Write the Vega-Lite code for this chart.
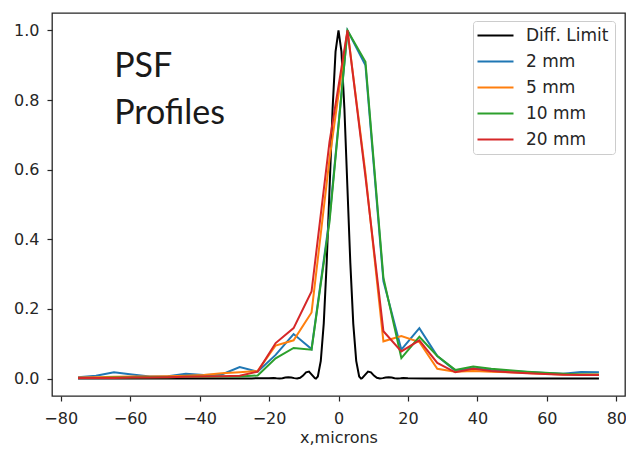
{
  "$schema": "https://vega.github.io/schema/vega-lite/v6.json",
  "width": 573,
  "height": 383,
  "autosize": {"type": "none"},
  "padding": {"left": 52, "top": 13, "right": 1, "bottom": 53},
  "background": "white",
  "config": {
    "view": {"stroke": "#262626", "strokeWidth": 1.3},
    "font": "DejaVu Sans",
    "axis": {
      "domain": false, "grid": false,
      "tickColor": "#262626", "tickSize": 5, "tickWidth": 1.2,
      "labelFont": "DejaVu Sans", "labelFontSize": 16, "labelColor": "#262626",
      "titleFont": "DejaVu Sans", "titleFontSize": 16, "titleFontWeight": "normal", "titleColor": "#262626"
    }
  },
  "datasets": {
    "profiles": [
      {"series": "Diff. Limit", "x": -75, "y": 0.0001},
      {"series": "Diff. Limit", "x": -60, "y": 0.0002},
      {"series": "Diff. Limit", "x": -50, "y": 0.0002},
      {"series": "Diff. Limit", "x": -40, "y": 0.0003},
      {"series": "Diff. Limit", "x": -30, "y": 0.0004},
      {"series": "Diff. Limit", "x": -25, "y": 0.0006},
      {"series": "Diff. Limit", "x": -20, "y": 0.0012},
      {"series": "Diff. Limit", "x": -18.7, "y": 0.0018},
      {"series": "Diff. Limit", "x": -17.9, "y": 0.0008},
      {"series": "Diff. Limit", "x": -17, "y": 0.0001},
      {"series": "Diff. Limit", "x": -16.15, "y": 0.0012},
      {"series": "Diff. Limit", "x": -15.3, "y": 0.003},
      {"series": "Diff. Limit", "x": -14.45, "y": 0.0041},
      {"series": "Diff. Limit", "x": -13.6, "y": 0.0034},
      {"series": "Diff. Limit", "x": -12.75, "y": 0.0013},
      {"series": "Diff. Limit", "x": -11.9, "y": 0},
      {"series": "Diff. Limit", "x": -11.05, "y": 0.0022},
      {"series": "Diff. Limit", "x": -10.2, "y": 0.0085},
      {"series": "Diff. Limit", "x": -9.35, "y": 0.018},
      {"series": "Diff. Limit", "x": -8.5, "y": 0.02},
      {"series": "Diff. Limit", "x": -7.65, "y": 0.0106},
      {"series": "Diff. Limit", "x": -6.8, "y": 0.0011},
      {"series": "Diff. Limit", "x": -6.5, "y": 0},
      {"series": "Diff. Limit", "x": -5.95, "y": 0.0062},
      {"series": "Diff. Limit", "x": -5.1, "y": 0.051},
      {"series": "Diff. Limit", "x": -4.25, "y": 0.158},
      {"series": "Diff. Limit", "x": -3.4, "y": 0.333},
      {"series": "Diff. Limit", "x": -2.55, "y": 0.553},
      {"series": "Diff. Limit", "x": -1.7, "y": 0.775},
      {"series": "Diff. Limit", "x": -0.85, "y": 0.939},
      {"series": "Diff. Limit", "x": 0, "y": 1.0},
      {"series": "Diff. Limit", "x": 0.85, "y": 0.939},
      {"series": "Diff. Limit", "x": 1.7, "y": 0.775},
      {"series": "Diff. Limit", "x": 2.55, "y": 0.553},
      {"series": "Diff. Limit", "x": 3.4, "y": 0.333},
      {"series": "Diff. Limit", "x": 4.25, "y": 0.158},
      {"series": "Diff. Limit", "x": 5.1, "y": 0.051},
      {"series": "Diff. Limit", "x": 5.95, "y": 0.0062},
      {"series": "Diff. Limit", "x": 6.5, "y": 0},
      {"series": "Diff. Limit", "x": 6.8, "y": 0.0011},
      {"series": "Diff. Limit", "x": 7.65, "y": 0.0106},
      {"series": "Diff. Limit", "x": 8.5, "y": 0.02},
      {"series": "Diff. Limit", "x": 9.35, "y": 0.018},
      {"series": "Diff. Limit", "x": 10.2, "y": 0.0085},
      {"series": "Diff. Limit", "x": 11.05, "y": 0.0022},
      {"series": "Diff. Limit", "x": 11.9, "y": 0},
      {"series": "Diff. Limit", "x": 12.75, "y": 0.0013},
      {"series": "Diff. Limit", "x": 13.6, "y": 0.0034},
      {"series": "Diff. Limit", "x": 14.45, "y": 0.0041},
      {"series": "Diff. Limit", "x": 15.3, "y": 0.003},
      {"series": "Diff. Limit", "x": 16.15, "y": 0.0012},
      {"series": "Diff. Limit", "x": 17, "y": 0.0001},
      {"series": "Diff. Limit", "x": 17.9, "y": 0.0008},
      {"series": "Diff. Limit", "x": 18.7, "y": 0.0018},
      {"series": "Diff. Limit", "x": 20, "y": 0.0012},
      {"series": "Diff. Limit", "x": 25, "y": 0.0006},
      {"series": "Diff. Limit", "x": 30, "y": 0.0004},
      {"series": "Diff. Limit", "x": 40, "y": 0.0003},
      {"series": "Diff. Limit", "x": 50, "y": 0.0002},
      {"series": "Diff. Limit", "x": 60, "y": 0.0002},
      {"series": "Diff. Limit", "x": 75, "y": 0.0001},

      {"series": "2 mm", "x": -75, "y": 0.004},
      {"series": "2 mm", "x": -69.83, "y": 0.008},
      {"series": "2 mm", "x": -64.66, "y": 0.018},
      {"series": "2 mm", "x": -59.48, "y": 0.012},
      {"series": "2 mm", "x": -54.31, "y": 0.006},
      {"series": "2 mm", "x": -49.14, "y": 0.007},
      {"series": "2 mm", "x": -43.97, "y": 0.014},
      {"series": "2 mm", "x": -38.79, "y": 0.01},
      {"series": "2 mm", "x": -33.62, "y": 0.012},
      {"series": "2 mm", "x": -28.45, "y": 0.033},
      {"series": "2 mm", "x": -23.28, "y": 0.02},
      {"series": "2 mm", "x": -18.1, "y": 0.068},
      {"series": "2 mm", "x": -12.93, "y": 0.128},
      {"series": "2 mm", "x": -7.76, "y": 0.085},
      {"series": "2 mm", "x": -2.59, "y": 0.46},
      {"series": "2 mm", "x": 2.59, "y": 1.0},
      {"series": "2 mm", "x": 7.76, "y": 0.9},
      {"series": "2 mm", "x": 12.93, "y": 0.28},
      {"series": "2 mm", "x": 18.1, "y": 0.083},
      {"series": "2 mm", "x": 23.28, "y": 0.145},
      {"series": "2 mm", "x": 28.45, "y": 0.065},
      {"series": "2 mm", "x": 33.62, "y": 0.023},
      {"series": "2 mm", "x": 38.79, "y": 0.03},
      {"series": "2 mm", "x": 43.97, "y": 0.025},
      {"series": "2 mm", "x": 49.14, "y": 0.022},
      {"series": "2 mm", "x": 54.31, "y": 0.019},
      {"series": "2 mm", "x": 59.48, "y": 0.016},
      {"series": "2 mm", "x": 64.66, "y": 0.014},
      {"series": "2 mm", "x": 69.83, "y": 0.019},
      {"series": "2 mm", "x": 75, "y": 0.018},

      {"series": "5 mm", "x": -75, "y": 0.003},
      {"series": "5 mm", "x": -69.83, "y": 0.004},
      {"series": "5 mm", "x": -64.66, "y": 0.005},
      {"series": "5 mm", "x": -59.48, "y": 0.006},
      {"series": "5 mm", "x": -54.31, "y": 0.006},
      {"series": "5 mm", "x": -49.14, "y": 0.007},
      {"series": "5 mm", "x": -43.97, "y": 0.008},
      {"series": "5 mm", "x": -38.79, "y": 0.01},
      {"series": "5 mm", "x": -33.62, "y": 0.015},
      {"series": "5 mm", "x": -28.45, "y": 0.018},
      {"series": "5 mm", "x": -23.28, "y": 0.022},
      {"series": "5 mm", "x": -18.1, "y": 0.095},
      {"series": "5 mm", "x": -12.93, "y": 0.11},
      {"series": "5 mm", "x": -7.76, "y": 0.19},
      {"series": "5 mm", "x": -2.59, "y": 0.63},
      {"series": "5 mm", "x": 2.59, "y": 1.0},
      {"series": "5 mm", "x": 7.76, "y": 0.59},
      {"series": "5 mm", "x": 12.93, "y": 0.107},
      {"series": "5 mm", "x": 18.1, "y": 0.122},
      {"series": "5 mm", "x": 23.28, "y": 0.105},
      {"series": "5 mm", "x": 28.45, "y": 0.028},
      {"series": "5 mm", "x": 33.62, "y": 0.02},
      {"series": "5 mm", "x": 38.79, "y": 0.022},
      {"series": "5 mm", "x": 43.97, "y": 0.02},
      {"series": "5 mm", "x": 49.14, "y": 0.018},
      {"series": "5 mm", "x": 54.31, "y": 0.016},
      {"series": "5 mm", "x": 59.48, "y": 0.014},
      {"series": "5 mm", "x": 64.66, "y": 0.012},
      {"series": "5 mm", "x": 69.83, "y": 0.012},
      {"series": "5 mm", "x": 75, "y": 0.012},

      {"series": "10 mm", "x": -75, "y": 0.002},
      {"series": "10 mm", "x": -69.83, "y": 0.002},
      {"series": "10 mm", "x": -64.66, "y": 0.003},
      {"series": "10 mm", "x": -59.48, "y": 0.003},
      {"series": "10 mm", "x": -54.31, "y": 0.004},
      {"series": "10 mm", "x": -49.14, "y": 0.004},
      {"series": "10 mm", "x": -43.97, "y": 0.005},
      {"series": "10 mm", "x": -38.79, "y": 0.005},
      {"series": "10 mm", "x": -33.62, "y": 0.006},
      {"series": "10 mm", "x": -28.45, "y": 0.006},
      {"series": "10 mm", "x": -23.28, "y": 0.009},
      {"series": "10 mm", "x": -18.1, "y": 0.058},
      {"series": "10 mm", "x": -12.93, "y": 0.088},
      {"series": "10 mm", "x": -7.76, "y": 0.083},
      {"series": "10 mm", "x": -2.59, "y": 0.45},
      {"series": "10 mm", "x": 2.59, "y": 1.0},
      {"series": "10 mm", "x": 7.76, "y": 0.91},
      {"series": "10 mm", "x": 12.93, "y": 0.29},
      {"series": "10 mm", "x": 18.1, "y": 0.059},
      {"series": "10 mm", "x": 23.28, "y": 0.12},
      {"series": "10 mm", "x": 28.45, "y": 0.065},
      {"series": "10 mm", "x": 33.62, "y": 0.025},
      {"series": "10 mm", "x": 38.79, "y": 0.035},
      {"series": "10 mm", "x": 43.97, "y": 0.028},
      {"series": "10 mm", "x": 49.14, "y": 0.024},
      {"series": "10 mm", "x": 54.31, "y": 0.02},
      {"series": "10 mm", "x": 59.48, "y": 0.017},
      {"series": "10 mm", "x": 64.66, "y": 0.014},
      {"series": "10 mm", "x": 69.83, "y": 0.012},
      {"series": "10 mm", "x": 75, "y": 0.011},

      {"series": "20 mm", "x": -75, "y": 0.002},
      {"series": "20 mm", "x": -69.83, "y": 0.002},
      {"series": "20 mm", "x": -64.66, "y": 0.002},
      {"series": "20 mm", "x": -59.48, "y": 0.003},
      {"series": "20 mm", "x": -54.31, "y": 0.003},
      {"series": "20 mm", "x": -49.14, "y": 0.004},
      {"series": "20 mm", "x": -43.97, "y": 0.005},
      {"series": "20 mm", "x": -38.79, "y": 0.006},
      {"series": "20 mm", "x": -33.62, "y": 0.007},
      {"series": "20 mm", "x": -28.45, "y": 0.008},
      {"series": "20 mm", "x": -23.28, "y": 0.02},
      {"series": "20 mm", "x": -18.1, "y": 0.102},
      {"series": "20 mm", "x": -12.93, "y": 0.145},
      {"series": "20 mm", "x": -7.76, "y": 0.25},
      {"series": "20 mm", "x": -2.59, "y": 0.68},
      {"series": "20 mm", "x": 2.59, "y": 1.0},
      {"series": "20 mm", "x": 7.76, "y": 0.58},
      {"series": "20 mm", "x": 12.93, "y": 0.136},
      {"series": "20 mm", "x": 18.1, "y": 0.078},
      {"series": "20 mm", "x": 23.28, "y": 0.11},
      {"series": "20 mm", "x": 28.45, "y": 0.045},
      {"series": "20 mm", "x": 33.62, "y": 0.018},
      {"series": "20 mm", "x": 38.79, "y": 0.028},
      {"series": "20 mm", "x": 43.97, "y": 0.022},
      {"series": "20 mm", "x": 49.14, "y": 0.018},
      {"series": "20 mm", "x": 54.31, "y": 0.015},
      {"series": "20 mm", "x": 59.48, "y": 0.013},
      {"series": "20 mm", "x": 64.66, "y": 0.011},
      {"series": "20 mm", "x": 69.83, "y": 0.01},
      {"series": "20 mm", "x": 75, "y": 0.01}
    ]
  },
  "layer": [
    {
      "data": {"name": "profiles"},
      "mark": {"type": "line", "strokeWidth": 2, "clip": true},
      "encoding": {
        "x": {
          "field": "x", "type": "quantitative",
          "scale": {"domain": [-82.5, 82.5], "nice": false, "zero": false},
          "axis": {"values": [-80, -60, -40, -20, 0, 20, 40, 60, 80], "format": "d", "title": "x,microns", "labelPadding": 9, "titlePadding": 3}
        },
        "y": {
          "field": "y", "type": "quantitative",
          "scale": {"domain": [-0.05, 1.05], "nice": false, "zero": false},
          "axis": {"values": [0, 0.2, 0.4, 0.6, 0.8, 1.0], "format": ".1f", "title": null, "labelPadding": 8}
        },
        "color": {
          "field": "series", "type": "nominal",
          "scale": {"domain": ["Diff. Limit", "2 mm", "5 mm", "10 mm", "20 mm"], "range": ["#000000", "#1f77b4", "#ff7f0e", "#2ca02c", "#d62728"]},
          "legend": {
            "title": null, "orient": "none", "legendX": 421, "legendY": 8,
            "symbolType": "M-3.6,0H3.6", "symbolSize": 100, "symbolStrokeWidth": 2, "symbolOffset": 8,
            "labelFont": "DejaVu Sans", "labelFontSize": 17, "labelColor": "#262626", "labelOffset": 22,
            "strokeColor": "#cccccc", "fillColor": "white", "cornerRadius": 3, "padding": 6, "rowPadding": 8
          }
        }
      }
    },
    {
      "data": {"values": [{"label": "PSF Profiles"}]},
      "mark": {"type": "text", "text": ["PSF", "Profiles"], "font": "Lato", "fontSize": 34, "align": "left", "baseline": "alphabetic", "lineHeight": 46.7, "color": "#1a1a1a"},
      "encoding": {"x": {"datum": -64.6}, "y": {"datum": 0.866}}
    }
  ]
}
